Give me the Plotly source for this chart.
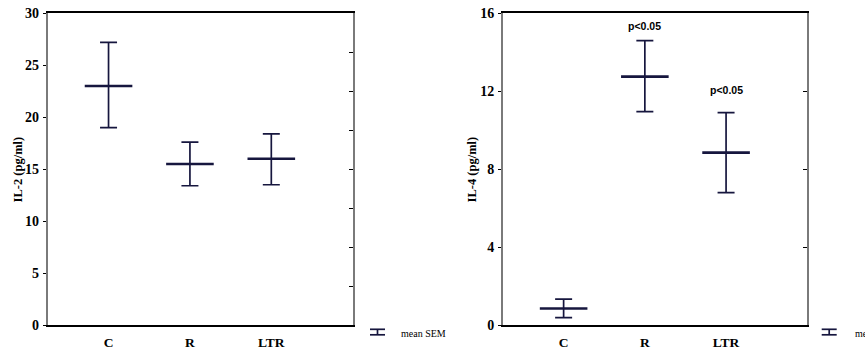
import plotly.graph_objects as go

W, H = 865, 350

categories = ["C", "R", "LTR"]

il2_mean = [23.0, 15.5, 16.0]
il2_upper = [27.2, 17.6, 18.4]
il2_lower = [19.0, 13.4, 13.5]

il4_mean = [0.85, 12.75, 8.85]
il4_upper = [1.33, 14.6, 10.9]
il4_lower = [0.38, 10.95, 6.8]

il2_ticks = [0, 5, 10, 15, 20, 25, 30]
il4_ticks = [0, 4, 8, 12, 16]
il2_right_ticks = [3.75, 7.5, 11.25, 15, 18.75, 22.5, 26.25]
il4_right_ticks = [4, 8, 12]

sig_text = ["p<0.05", "p<0.05"]
sig_cats = ["R", "LTR"]
sig_y = [15.35, 12.05]

NAVY = "#16163e"
SERIF = "Liberation Serif, Times New Roman, serif"
SANS = "Liberation Sans, Arial, sans-serif"


def px_x(p):
    return p / W


def px_y(p):
    return 1 - p / H


fig = go.Figure()


def add_panel(mean, upper, lower, xa, ya):
    fig.add_trace(go.Scatter(
        x=categories, y=mean, mode="markers", xaxis=xa, yaxis=ya,
        showlegend=False, cliponaxis=False,
        marker=dict(symbol="line-ew", size=34, color=NAVY,
                    line=dict(color=NAVY, width=2.6)),
        error_y=dict(type="data", symmetric=False,
                     array=[u - m for u, m in zip(upper, mean)],
                     arrayminus=[m - l for m, l in zip(mean, lower)],
                     color=NAVY, thickness=1.7, width=8.5),
    ))


add_panel(il2_mean, il2_upper, il2_lower, "x", "y")
add_panel(il4_mean, il4_upper, il4_lower, "x2", "y2")

ydom = [px_y(325), px_y(13.3)]
ytickfont = dict(family=SERIF, size=14, color="black", weight="bold")
xtickfont = dict(family=SERIF, size=13.5, color="black", weight="bold")

xcommon = dict(type="category", range=[-0.75, 3.0], showline=True,
               linecolor="black", linewidth=1.5, mirror=True, ticks="",
               showgrid=False, zeroline=False, tickfont=xtickfont,
               ticklabelstandoff=4, fixedrange=True, automargin=False)
ycommon = dict(showline=True, linecolor="#7a7a7a", linewidth=1.5, mirror=True,
               ticks="outside", ticklen=3, tickcolor="black", tickwidth=1,
               showgrid=False, zeroline=False, tickfont=ytickfont,
               ticklabelstandoff=1, automargin=False, fixedrange=True)
yright = dict(side="right", ticks="inside", ticklen=4, tickcolor="black",
              tickwidth=1, showticklabels=False, showline=False,
              showgrid=False, zeroline=False, automargin=False, fixedrange=True)

fig.update_layout(
    template="none",
    width=W, height=H,
    margin=dict(l=0, r=0, t=0, b=0, pad=0, autoexpand=False),
    paper_bgcolor="white", plot_bgcolor="white",
    xaxis=dict(domain=[px_x(47.5), px_x(352.7)], anchor="y", **xcommon),
    xaxis2=dict(domain=[px_x(502.7), px_x(807.3)], anchor="y2", **xcommon),
    yaxis=dict(domain=ydom, anchor="x", range=[0, 30], tickvals=il2_ticks, **ycommon),
    yaxis2=dict(domain=ydom, anchor="x2", range=[0, 16], tickvals=il4_ticks, **ycommon),
    yaxis3=dict(overlaying="y", anchor="x", range=[0, 30],
                tickvals=il2_right_ticks, **yright),
    yaxis4=dict(overlaying="y2", anchor="x2", range=[0, 16],
                tickvals=il4_right_ticks, **yright),
    showlegend=False,
)

# invisible traces to activate the right-side tick axes
fig.add_trace(go.Scatter(x=[categories[0]], y=[0], xaxis="x", yaxis="y3",
                         mode="markers", marker=dict(opacity=0), hoverinfo="skip"))
fig.add_trace(go.Scatter(x=[categories[0]], y=[0], xaxis="x2", yaxis="y4",
                         mode="markers", marker=dict(opacity=0), hoverinfo="skip"))

annotations = []
# y-axis titles
for xp, txt in [(18.3, "IL-2 (pg/ml)"), (472.3, "IL-4 (pg/ml)")]:
    annotations.append(dict(
        xref="paper", yref="paper", x=px_x(xp), y=(ydom[0] + ydom[1]) / 2,
        text=txt, textangle=-90, showarrow=False, xanchor="center", yanchor="middle",
        font=dict(family=SERIF, size=12.5, color="black", weight="bold")))

# significance labels
for c, yv, t in zip(sig_cats, sig_y, sig_text):
    annotations.append(dict(
        xref="x2", yref="y2", x=c, y=yv, text=t, showarrow=False,
        xanchor="center", yanchor="middle",
        font=dict(family=SANS, size=10.5, color="black", weight="bold")))

# legends "mean SEM"
shapes = []
for gx, tx in [(370, 399), (821.7, 852.7)]:
    top, bot, mid = 329.3, 334.8, gx + 7.5
    for yy in (top, bot):
        shapes.append(dict(type="line", xref="paper", yref="paper",
                           x0=px_x(gx), x1=px_x(gx + 15), y0=px_y(yy), y1=px_y(yy),
                           line=dict(color=NAVY, width=1.7)))
    shapes.append(dict(type="line", xref="paper", yref="paper",
                       x0=px_x(mid), x1=px_x(mid), y0=px_y(top), y1=px_y(bot),
                       line=dict(color=NAVY, width=1.7)))
    annotations.append(dict(
        xref="paper", yref="paper", x=px_x(tx), y=px_y(333.3), text="mean SEM",
        showarrow=False, xanchor="left", yanchor="middle",
        font=dict(family=SERIF, size=10, color="black")))

fig.update_layout(annotations=annotations, shapes=shapes)

fig.write_html(
    "out.html",
    config=dict(displayModeBar=False),
    post_script="document.body.style.margin='0';document.body.style.overflow='hidden';",
)
